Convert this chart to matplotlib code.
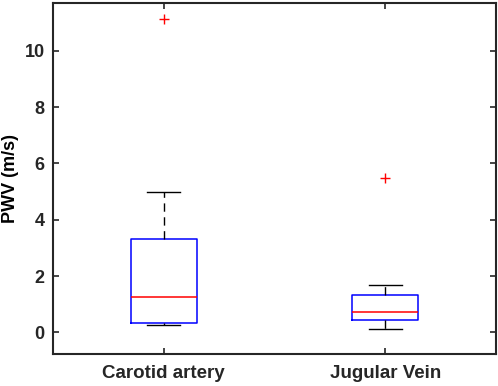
import matplotlib
matplotlib.use("Agg")
from matplotlib import pyplot as plt

# Box plot values (m/s)
groups = ['Carotid artery', 'Jugular Vein']
whislo = [0.25, 0.11]
q1 = [0.33, 0.45]
med = [1.27, 0.71]
q3 = [3.30, 1.31]
whishi = [5.0, 1.69]
fliers = [[11.12], [5.5]]

stats = []
for i in range(len(groups)):
    stats.append({'label': groups[i], 'whislo': whislo[i], 'q1': q1[i],
                  'med': med[i], 'q3': q3[i], 'whishi': whishi[i],
                  'fliers': fliers[i]})

plt.rcParams['font.family'] = ['Liberation Sans', 'DejaVu Sans']
plt.rcParams['font.weight'] = 'bold'

fig = plt.figure(figsize=(4.98, 3.86), dpi=100)
ax = fig.add_axes([53 / 498, 32 / 386, 443 / 498, 351 / 386])

ax.bxp(stats, positions=[1, 2], widths=0.3, showfliers=True,
       boxprops={'color': 'blue', 'lw': 1.1},
       medianprops={'color': 'red', 'lw': 1.1},
       whiskerprops={'color': 'black', 'lw': 1.0, 'ls': (0, (6, 4))},
       capprops={'color': 'black', 'lw': 1.0},
       flierprops={'marker': '+', 'markeredgecolor': 'red',
                   'markersize': 7, 'markeredgewidth': 1.0})

ax.set_xlim(0.5, 2.5)
ax.set_ylim(-0.77, 11.7)
ax.set_yticks([0, 2, 4, 6, 8, 10])
ax.set_xticks([1, 2])
ax.set_xticklabels(groups)
ax.set_ylabel('PWV (m/s)', fontsize=13, fontweight='bold', labelpad=4)
ax.tick_params(direction='in', top=True, right=True, length=4, width=1.2,
               colors='#262626', labelsize=13, pad=6)
ax.tick_params(axis='x', pad=8, labelsize=13.5)
for s in ax.spines.values():
    s.set_color('#262626')
    s.set_linewidth(1.5)

fig.savefig('out.png', dpi=100)
